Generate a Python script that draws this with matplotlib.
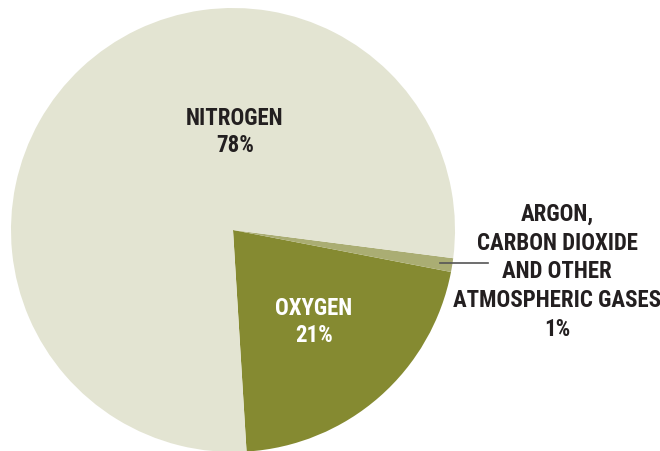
import numpy as np
import matplotlib
matplotlib.use('Agg')
import matplotlib.pyplot as plt

# Composition of the atmosphere
gases = ['OXYGEN', 'ARGON,\nCARBON DIOXIDE\nAND OTHER\nATMOSPHERIC GASES', 'NITROGEN']
shares = [21, 1, 78]
colors = ['#858A31', '#AAAD73', '#E3E4D2']

plt.rcParams['font.family'] = ['Roboto Condensed', 'DejaVu Sans']

W, H = 660, 452
fig = plt.figure(figsize=(W / 100, H / 100), dpi=100)
ax = fig.add_axes([0, 0, 1, 1])

cx, cy, r = 233, H - 231, 222
start = -86.5
wedges, _ = ax.pie(shares, colors=colors, startangle=start, counterclock=True,
                   center=(cx, cy), radius=r, frame=True,
                   wedgeprops=dict(linewidth=0))
ax.set_xlim(0, W)
ax.set_ylim(0, H)
ax.set_aspect('equal')
ax.axis('off')

txt = dict(fontsize=16.5, fontweight='bold', ha='center', va='center')
ax.text(235, H - 132, f'NITROGEN\n{shares[2]}%', color='#231F20',
        linespacing=1.27, **txt)
ax.text(314, H - 322, f'OXYGEN\n{shares[0]}%', color='white',
        linespacing=1.27, **txt)
ax.text(557, H - 272, f'{gases[1]}\n{shares[1]}%', color='#231F20',
        linespacing=1.32, **txt)

# leader line from the small wedge
w = wedges[1]
mid = np.deg2rad((w.theta1 + w.theta2) / 2)
x0 = cx + 0.945 * r * np.cos(mid)
y0 = cy + 0.945 * r * np.sin(mid)
ax.plot([x0, 488], [y0, y0], color='#555555', linewidth=1.2)

fig.savefig('out.png', dpi=100, facecolor='white')
